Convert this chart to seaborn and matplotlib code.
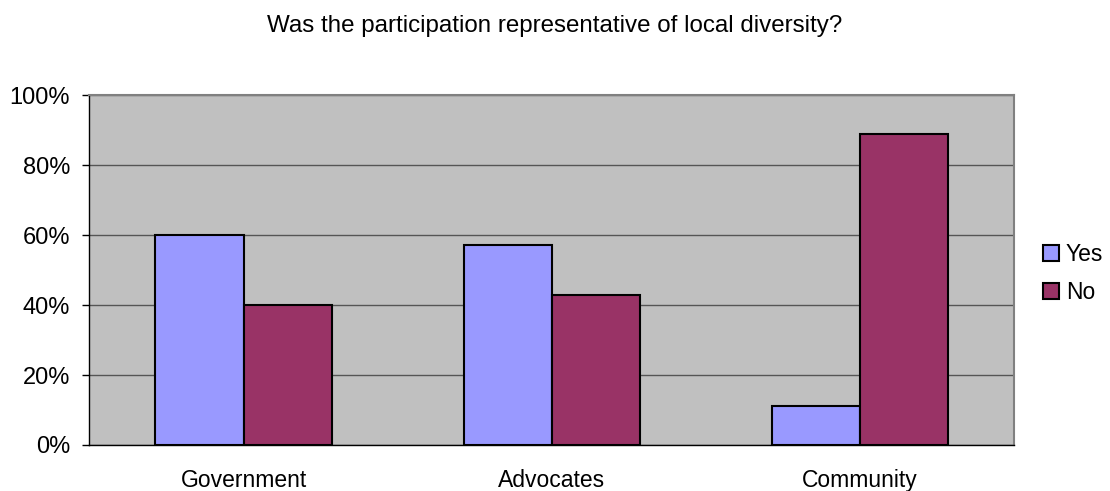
import matplotlib
matplotlib.use("Agg")
import matplotlib.pyplot as plt
import matplotlib.ticker as mticker
import seaborn as sns
import pandas as pd

categories = ["Government", "Advocates", "Community"]
yes_values = [60.0, 57.1, 11.1]
no_values = [40.0, 42.9, 88.9]
series_names = ["Yes", "No"]
y_ticks = [0, 20, 40, 60, 80, 100]

df = pd.DataFrame({
    "group": categories * 2,
    "answer": [series_names[0]] * 3 + [series_names[1]] * 3,
    "value": yes_values + no_values,
})

sns.set_theme(style="white")
plt.rcParams["font.family"] = ["Liberation Sans", "DejaVu Sans"]
plt.rcParams["text.color"] = "black"
plt.rcParams["xtick.color"] = "black"
plt.rcParams["ytick.color"] = "black"

fig = plt.figure(figsize=(11.1, 4.91), dpi=100)
ax = fig.add_axes([0.0805, 0.0937, 0.8333, 0.7123])
ax.set_facecolor("#C0C0C0")

sns.barplot(data=df, x="group", y="value", hue="answer", order=categories,
            hue_order=series_names, palette=["#9999FF", "#993366"],
            width=0.5714, gap=0, edgecolor="black", linewidth=1.5,
            saturation=1, ax=ax, zorder=3, legend=True)

ax.set_xlim(-0.5, 2.5)
ax.set_ylim(0, 100)
ax.set_yticks(y_ticks)
ax.yaxis.set_major_formatter(mticker.FuncFormatter(lambda v, p: f"{int(v)}%"))
ax.grid(axis="y", color="#555555", linewidth=1, zorder=1)
ax.set_axisbelow(True)
ax.set_xlabel("")
ax.set_ylabel("")

# Category labels at group centers, tick marks at group boundaries
ax.tick_params(axis="x", which="major", length=0, pad=17, labelsize=16.5,
               labelcolor="black")
ax.set_xticks([-0.5, 0.5, 1.5, 2.5], minor=True)
ax.tick_params(axis="x", which="minor", length=5.5, width=1, color="black",
               direction="out")
ax.tick_params(axis="y", length=5, width=1, color="black", direction="out",
               labelsize=17, pad=9, labelcolor="black")
ax.tick_params(axis="both", bottom=True, left=True)

for side in ["left", "bottom"]:
    ax.spines[side].set_color("black")
    ax.spines[side].set_linewidth(1)
for side in ["top", "right"]:
    ax.spines[side].set_color("#808080")
    ax.spines[side].set_linewidth(1.5)

handles, labels = ax.get_legend_handles_labels()
ax.get_legend().remove()
fig.legend(handles, labels, loc="center left", bbox_to_anchor=(0.9396, 0.443),
           bbox_transform=fig.transFigure, frameon=False, borderpad=0,
           borderaxespad=0, fontsize=16.5, handlelength=0.7, handleheight=0.7,
           handletextpad=0.3, labelspacing=0.68)

fig.text(0.5, 0.947, "Was the participation representative of local diversity?",
         ha="center", va="center", fontsize=17.4, color="black")

fig.savefig("out.png", dpi=100, facecolor="white")
